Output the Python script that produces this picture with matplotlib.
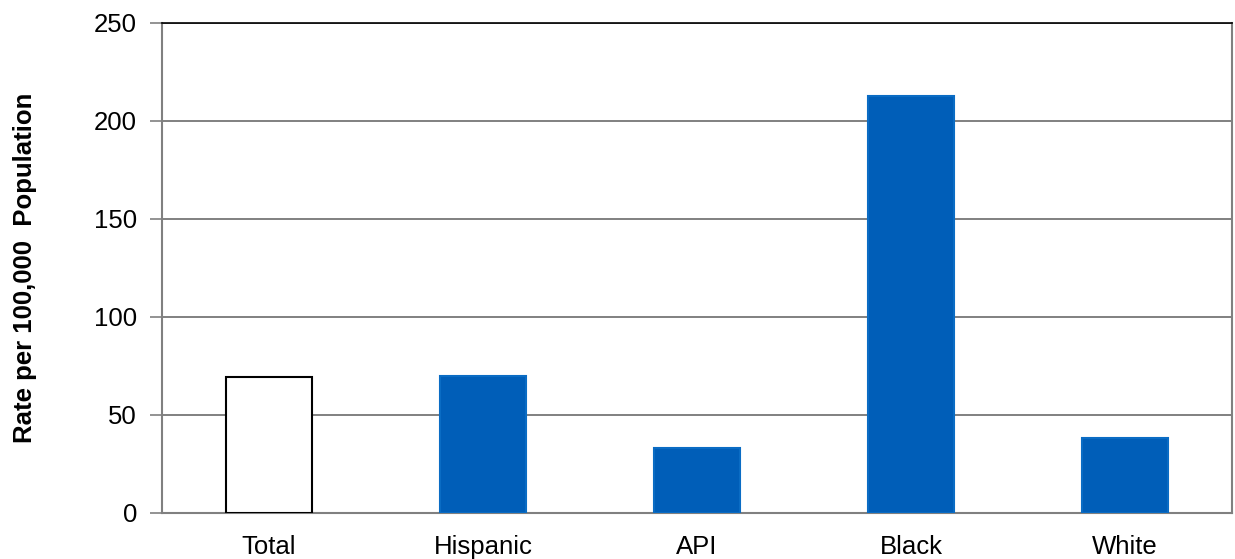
import matplotlib.pyplot as plt

# data
categories = ['Total', 'Hispanic', 'API', 'Black', 'White']
rates = [69.3, 69.9, 33.0, 212.8, 38.2]
fill_colors = ['white', '#005EB8', '#005EB8', '#005EB8', '#005EB8']
edge_colors = ['black', '#0A6CC4', '#0A6CC4', '#0A6CC4', '#0A6CC4']

plt.rcParams['font.family'] = ['Liberation Sans', 'DejaVu Sans']

fig = plt.figure(figsize=(12.35, 5.59), dpi=100)
ax = fig.add_axes([0.1312, 0.0823, 0.8664, 0.8766])

# grid lines behind the bars
ax.set_axisbelow(True)
ax.yaxis.grid(True, color='#808080', linewidth=1.4)

x = list(range(len(categories)))
ax.bar(x, rates, width=0.4, color=fill_colors, edgecolor=edge_colors, linewidth=1.5, zorder=3)

ax.set_xlim(-0.5, len(categories) - 0.5)
ax.set_ylim(0, 250)
ax.set_yticks([0, 50, 100, 150, 200, 250])
ax.set_xticks(x)
ax.set_xticklabels(categories)

ax.tick_params(axis='y', length=9, width=1.2, color='#808080', labelsize=18.5, pad=9)
ax.tick_params(axis='x', length=0, labelsize=18.5, pad=16)

for side in ['left', 'bottom', 'right']:
    ax.spines[side].set_color('#808080')
    ax.spines[side].set_linewidth(1.5)
ax.spines['top'].set_color('black')
ax.spines['top'].set_linewidth(1.2)

ax.set_ylabel('Rate per 100,000  Population', fontsize=18.5, fontweight='bold')
ax.yaxis.set_label_coords(-0.1165, 0.5)

fig.savefig('out.png', dpi=100)
